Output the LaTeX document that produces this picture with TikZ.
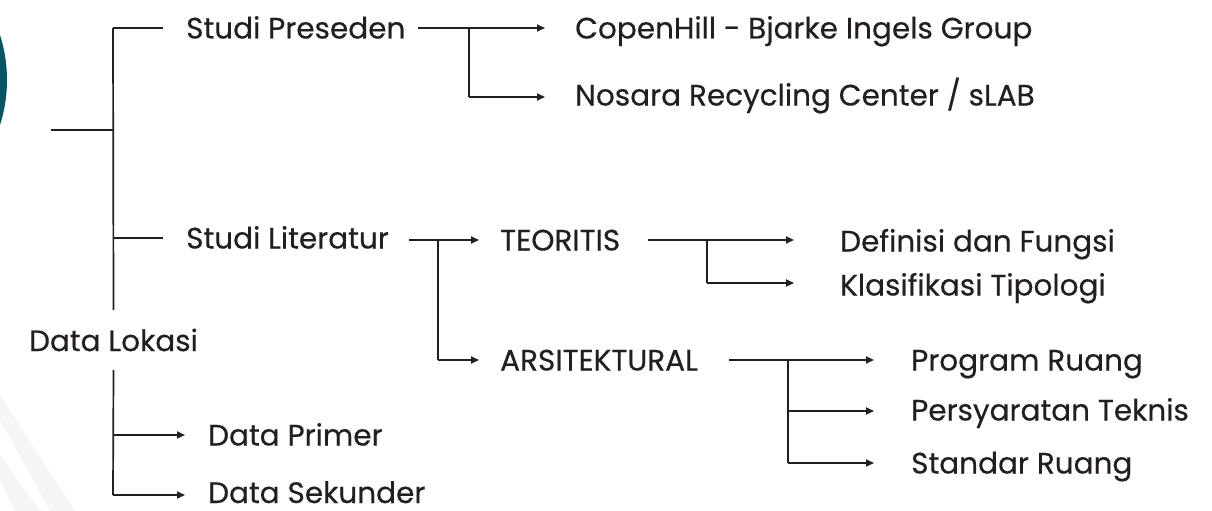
\documentclass[tikz,border=0pt]{standalone}
\usepackage{fontspec}
\setmainfont{Poppins}
\newfontfamily\lblfont{Poppins}[FakeBold=0.4]
\usetikzlibrary{arrows.meta}
\definecolor{ink}{HTML}{231F20}
\definecolor{teal1}{HTML}{0B5566}
\definecolor{wm}{HTML}{F5F5F5}
\begin{document}
\begin{tikzpicture}[x=1pt,y=-1pt,
  lbl/.style={anchor=base west,inner sep=0pt,text=ink,font=\lblfont\fontsize{29.5}{34}\selectfont},
  ln/.style={draw=ink,line width=1.7pt},
  arr/.style={ln,-{Triangle[length=8pt,width=7pt]}}]
\useasboundingbox (0,0) rectangle (1212,511);
% background accents
\fill[teal1] (-141,80) circle (148);
\fill[wm] (0,395) -- (0,420) -- (50,511) -- (75,511) -- cycle;
\fill[wm] (0,455) -- (0,480) -- (15,511) -- (40,511) -- cycle;
% labels
\node[lbl] (SP) at (186,38.5) {Studi Preseden};
\node[lbl] (SL) at (186,248.5) {Studi Literatur};
\node[anchor=center,inner sep=0pt,text=ink,font=\lblfont\fontsize{29.5}{34}\selectfont,minimum height=60pt] (DL) at (113.5,340) {Data Lokasi};
\node[lbl] (DP) at (208,445.5) {Data Primer};
\node[lbl,text depth=0pt] (DS) at (208,503) {Data Sekunder};
\node[lbl] (CH) at (575,38.5) {CopenHill - Bjarke Ingels Group};
\node[lbl] (NR) at (575,105.5) {Nosara Recycling Center / sLAB};
\node[lbl] (TE) at (500,250.5) {TEORITIS};
\node[lbl] (AR) at (500,370.5) {ARSITEKTURAL};
\node[lbl] (DF) at (840,251.5) {Definisi dan Fungsi};
\node[lbl] (KT) at (840,295.5) {Klasifikasi Tipologi};
\node[lbl] (PR) at (911,370.5) {Program Ruang};
\node[lbl] (PT) at (911,420.5) {Persyaratan Teknis};
\node[lbl] (SR) at (911,473.5) {Standar Ruang};
% junction coordinates
\coordinate (r0) at (51,130);
\coordinate (r1) at (113,130);
\coordinate (t0) at (113,28);
\coordinate (t2) at (113,238);
\coordinate (t3) at (113,435);
\coordinate (t4) at (113,495);
\coordinate (p0) at (418,28);
\coordinate (p1) at (469,28);
\coordinate (p2) at (469,97);
\coordinate (l0) at (409,240);
\coordinate (l1) at (438,240);
\coordinate (l2) at (438,360);
\coordinate (e0) at (648,240);
\coordinate (e1) at (707,240);
\coordinate (e2) at (707,283);
\coordinate (a0) at (729,360);
\coordinate (a1) at (788,360);
\coordinate (a2) at (788,411);
\coordinate (a3) at (788,463);
% connectors
\draw[ln] (r0) -- (r1);
\draw[ln] (t0) -- (DL.north);
\draw[ln] (DL.south) -- (t4);
\draw[ln] (t0) -- ([xshift=-23pt]SP.west|-t0);
\draw[ln] (t2) -- ([xshift=-23pt]SL.west|-t2);
\draw[arr] (t3) -- ([xshift=-23pt]DP.west|-t3);
\draw[arr] (t4) -- ([xshift=-23pt]DS.west|-t4);
\draw[arr] (p0) -- ([xshift=-30pt]CH.west|-p0);
\draw[ln] (p1) -- (p2);
\draw[arr] (p2) -- ([xshift=-30pt]NR.west|-p2);
\draw[arr] (l0) -- ([xshift=-21pt]TE.west|-l0);
\draw[ln] (l1) -- (l2);
\draw[arr] (l2) -- ([xshift=-21pt]AR.west|-l2);
\draw[arr] (e0) -- ([xshift=-46pt]DF.west|-e0);
\draw[ln] (e1) -- (e2);
\draw[arr] (e2) -- ([xshift=-46pt]KT.west|-e2);
\draw[arr] (a0) -- ([xshift=-37pt]PR.west|-a0);
\draw[ln] (a1) -- (a3);
\draw[arr] (a2) -- ([xshift=-37pt]PT.west|-a2);
\draw[arr] (a3) -- ([xshift=-37pt]SR.west|-a3);
\end{tikzpicture}
\end{document}
